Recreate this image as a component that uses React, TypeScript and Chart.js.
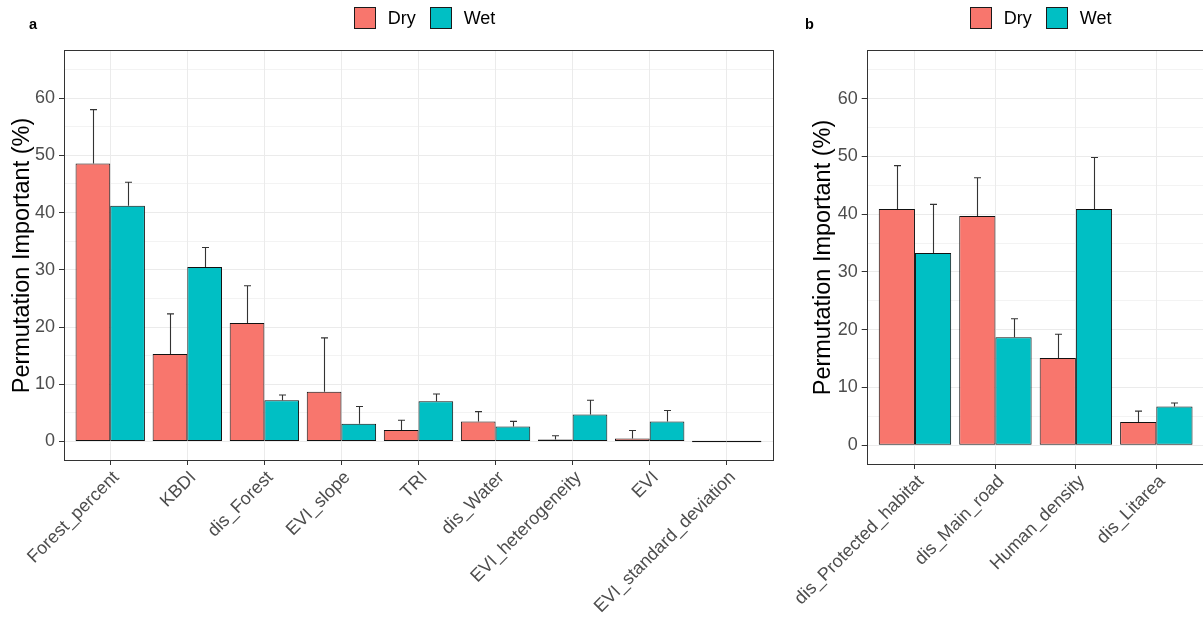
import React, { useEffect, useRef } from 'react';
import { Chart, registerables } from 'chart.js';

Chart.register(...registerables);

const FONT = "'Liberation Sans', Arial, Helvetica, sans-serif";
const DRY_COLOR = '#F8766D';
const WET_COLOR = '#00BFC4';
const seriesNames = ['Dry', 'Wet'];

// Panel a
const categoriesA = [
  'Forest_percent',
  'KBDI',
  'dis_Forest',
  'EVI_slope',
  'TRI',
  'dis_Water',
  'EVI_heterogeneity',
  'EVI',
  'EVI_standard_deviation',
];
const dryA = [48.6, 15.3, 20.7, 8.7, 2.0, 3.5, 0.35, 0.5, 0];
const dryErrA = [9.4, 7.0, 6.5, 9.4, 1.7, 1.7, 0.65, 1.4, 0];
const wetA = [41.2, 30.5, 7.2, 3.1, 7.0, 2.6, 4.7, 3.5, 0];
const wetErrA = [4.1, 3.4, 0.9, 3.0, 1.3, 0.9, 2.5, 1.9, 0];

// Panel b
const categoriesB = ['dis_Protected_habitat', 'dis_Main_road', 'Human_density', 'dis_Litarea'];
const dryB = [40.9, 39.7, 15.1, 4.0];
const dryErrB = [7.5, 6.6, 4.1, 1.9];
const wetB = [33.3, 18.7, 40.9, 6.7];
const wetErrB = [8.4, 3.2, 8.9, 0.6];

const yMin = -3.25;
const yMax = 68.25;
const yMajorTicks = [0, 10, 20, 30, 40, 50, 60];
const yTitle = 'Permutation Important (%)';

interface PanelLayout {
  tag: string;
  tagX: number;
  yAxisWidth: number;
  xAxisHeight: number;
  padTop: number;
  padRight: number;
  titlePad: number;
  legendShift: number;
}

const layoutA: PanelLayout = {
  tag: 'a',
  tagX: 29,
  yAxisWidth: 64,
  xAxisHeight: 168,
  padTop: 51,
  padRight: 27,
  titlePad: 8.5,
  legendShift: 6,
};

const layoutB: PanelLayout = {
  tag: 'b',
  tagX: 25,
  yAxisWidth: 86.7,
  xAxisHeight: 164,
  padTop: 51,
  padRight: 5.4,
  titlePad: 29,
  legendShift: 5,
};

function buildChart(
  canvas: HTMLCanvasElement,
  cats: string[],
  dry: number[],
  dryErr: number[],
  wet: number[],
  wetErr: number[],
  L: PanelLayout
) {
  const n = cats.length;
  const errs = [dryErr, wetErr];
  const vals = [dry, wet];
  const toPts = (v: number[]) => v.map((y, i) => ({ x: i, y }));

  const errorBars = {
    id: 'errorBars',
    afterDatasetsDraw(chart: any) {
      const ctx = chart.ctx;
      const ys = chart.scales.y;
      ctx.save();
      ctx.strokeStyle = '#333333';
      ctx.lineWidth = 1.1;
      for (let d = 0; d < 2; d++) {
        const meta = chart.getDatasetMeta(d);
        meta.data.forEach((bar: any, i: number) => {
          const e = errs[d][i];
          if (!e) return;
          const v = vals[d][i];
          const top = ys.getPixelForValue(v + e);
          const bottom = ys.getPixelForValue(v);
          const x = Math.round(bar.x) + 0.5;
          ctx.beginPath();
          ctx.moveTo(x, bottom);
          ctx.lineTo(x, top);
          ctx.moveTo(x - 3.5, top);
          ctx.lineTo(x + 3.5, top);
          ctx.stroke();
        });
      }
      ctx.restore();
    },
  };

  const decorations = {
    id: 'decorations',
    afterDraw(chart: any) {
      const ctx = chart.ctx;
      const a = chart.chartArea;
      ctx.save();
      // panel border
      ctx.strokeStyle = '#333333';
      ctx.lineWidth = 1;
      ctx.strokeRect(Math.round(a.left) + 0.5, Math.round(a.top) - 0.5, Math.round(a.right - a.left), Math.round(a.bottom - a.top) + 1);
      // legend
      ctx.font = `18px ${FONT}`;
      const box = 22;
      const gapText = 12;
      const gapItem = 14;
      const w0 = ctx.measureText(seriesNames[0]).width;
      const w1 = ctx.measureText(seriesNames[1]).width;
      const total = box + gapText + w0 + gapItem + box + gapText + w1;
      let x = (a.left + a.right) / 2 + L.legendShift - total / 2;
      const yTop = 7;
      const colors = [DRY_COLOR, WET_COLOR];
      const widths = [w0, w1];
      ctx.textBaseline = 'middle';
      ctx.textAlign = 'left';
      for (let k = 0; k < 2; k++) {
        ctx.fillStyle = colors[k];
        ctx.fillRect(Math.round(x), yTop, box, box);
        ctx.strokeStyle = '#1a1a1a';
        ctx.strokeRect(Math.round(x) + 0.5, yTop + 0.5, box - 1, box - 1);
        x += box + gapText;
        ctx.fillStyle = '#000000';
        ctx.fillText(seriesNames[k], x, yTop + box / 2 + 1);
        x += widths[k] + gapItem;
      }
      // panel tag
      ctx.font = `bold 14.5px ${FONT}`;
      ctx.textBaseline = 'alphabetic';
      ctx.fillStyle = '#000000';
      ctx.fillText(L.tag, L.tagX, 29);
      ctx.restore();
    },
  };

  const common = {
    borderColor: '#111111',
    borderWidth: 1,
    borderSkipped: false,
    categoryPercentage: 0.9,
    barPercentage: 1,
    minBarLength: 1.5,
  };

  return new Chart(canvas, {
    type: 'bar',
    data: {
      datasets: [
        { label: seriesNames[0], data: toPts(dry), backgroundColor: DRY_COLOR, ...common } as any,
        { label: seriesNames[1], data: toPts(wet), backgroundColor: WET_COLOR, ...common } as any,
      ],
    },
    options: {
      responsive: false,
      animation: false,
      devicePixelRatio: 1,
      layout: { padding: { top: L.padTop, right: L.padRight, left: 0, bottom: 0 } },
      plugins: {
        legend: { display: false },
        tooltip: { enabled: false },
      },
      scales: {
        x: {
          type: 'linear',
          offset: false,
          min: -0.6,
          max: n - 0.4,
          afterFit: (s: any) => {
            s.height = L.xAxisHeight;
            s.paddingLeft = 0;
            s.paddingRight = 0;
          },
          ticks: {
            stepSize: 1,
            includeBounds: false,
            autoSkip: false,
            maxRotation: 45,
            minRotation: 45,
            labelOffset: 6,
            padding: 2,
            color: '#4D4D4D',
            font: { size: 18, family: FONT },
            callback: (v: any) => (Number.isInteger(v) && cats[v] !== undefined ? cats[v] : ''),
          },
          grid: {
            color: '#EBEBEB',
            lineWidth: 1,
            tickColor: '#333333',
            tickLength: 5,
            offset: false,
          },
          border: { display: false },
        } as any,
        y: {
          type: 'linear',
          min: yMin,
          max: yMax,
          afterFit: (s: any) => {
            s.width = L.yAxisWidth;
            s.paddingTop = 0;
            s.paddingBottom = 0;
          },
          ticks: {
            stepSize: 5,
            includeBounds: false,
            autoSkip: false,
            padding: 4,
            color: '#4D4D4D',
            font: { size: 18, family: FONT },
            callback: (v: any) => (yMajorTicks.includes(v) ? String(v) : ''),
          },
          grid: {
            color: '#EBEBEB',
            lineWidth: (c: any) => (c.tick && yMajorTicks.includes(c.tick.value) ? 1 : 0.6),
            tickColor: (c: any) => (c.tick && yMajorTicks.includes(c.tick.value) ? '#333333' : 'rgba(0,0,0,0)'),
            tickLength: 5,
          },
          border: { display: false },
          title: {
            display: true,
            text: yTitle,
            color: '#000000',
            font: { size: 23.5, family: FONT },
            padding: { top: L.titlePad, bottom: 0 },
          },
        } as any,
      },
    },
    plugins: [errorBars, decorations],
  } as any);
}

export default function App() {
  const refA = useRef<HTMLCanvasElement>(null);
  const refB = useRef<HTMLCanvasElement>(null);

  useEffect(() => {
    const ca = buildChart(refA.current!, categoriesA, dryA, dryErrA, wetA, wetErrA, layoutA);
    const cb = buildChart(refB.current!, categoriesB, dryB, dryErrB, wetB, wetErrB, layoutB);
    return () => {
      ca.destroy();
      cb.destroy();
    };
  }, []);

  return (
    <div
      style={{
        position: 'fixed',
        left: 0,
        top: 0,
        width: 1203,
        height: 628,
        overflow: 'hidden',
        background: '#ffffff',
      }}
    >
      <canvas
        ref={refA}
        width={800}
        height={628}
        style={{ position: 'absolute', left: 0, top: 0, width: 800, height: 628 }}
      />
      <canvas
        ref={refB}
        width={430}
        height={628}
        style={{ position: 'absolute', left: 780, top: 0, width: 430, height: 628 }}
      />
    </div>
  );
}
